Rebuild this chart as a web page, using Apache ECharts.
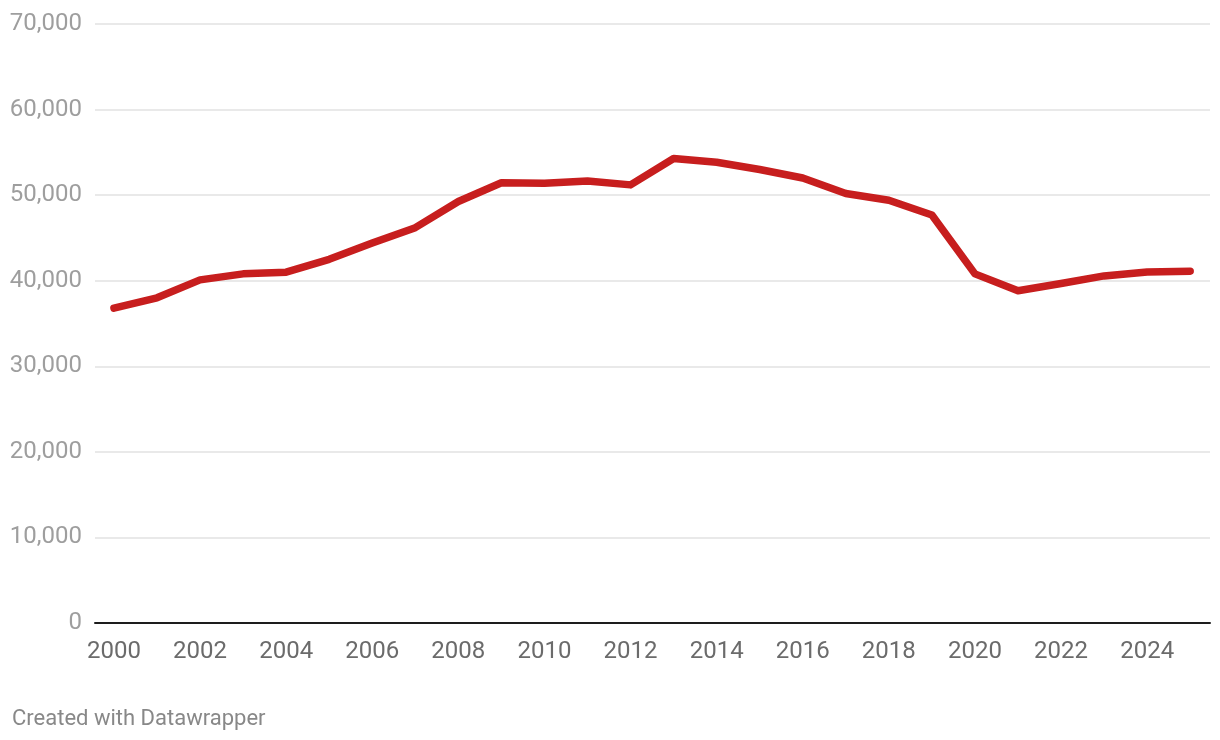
<!DOCTYPE html>
<html>
<head>
<meta charset="utf-8">
<script src="https://cdn.jsdelivr.net/npm/echarts@6/dist/echarts.min.js"></script>
<style>
  html, body { margin: 0; padding: 0; background: #fff; }
  #chart { width: 1220px; height: 740px; }
</style>
</head>
<body>
<div id="chart"></div>
<script>
const years = [2000, 2001, 2002, 2003, 2004, 2005, 2006, 2007, 2008, 2009, 2010, 2011, 2012,
  2013, 2014, 2015, 2016, 2017, 2018, 2019, 2020, 2021, 2022, 2023, 2024, 2025];
const values = [36800, 38000, 40100, 40800, 41000, 42500, 44400, 46200, 49250, 51450, 51380, 51650, 51200,
  54280, 53850, 53000, 52000, 50200, 49400, 47680, 40800, 38830, 39680, 40560, 41030, 41120];
const xTickLabels = [2000, 2002, 2004, 2006, 2008, 2010, 2012, 2014, 2016, 2018, 2020, 2022, 2024];
const yTicks = [0, 10000, 20000, 30000, 40000, 50000, 60000, 70000];

const chart = echarts.init(document.getElementById('chart'), null, { renderer: 'canvas' });
chart.setOption({
  animation: false,
  backgroundColor: '#ffffff',
  textStyle: { fontFamily: 'Roboto' },
  grid: { left: 95, right: 10, top: 24, bottom: 117, containLabel: false },
  xAxis: {
    type: 'value',
    min: 1999.56,
    max: 2025.46,
    axisLine: { show: true, onZero: true, lineStyle: { color: '#1d1d1d', width: 2 } },
    axisTick: { show: false },
    splitLine: { show: false },
    axisLabel: {
      customValues: xTickLabels,
      formatter: v => String(v),
      color: '#6b6b6b',
      fontSize: 24,
      fontFamily: 'Roboto',
      margin: 17
    }
  },
  yAxis: {
    type: 'value',
    min: yTicks[0],
    max: yTicks[yTicks.length - 1],
    interval: 10000,
    axisLine: { show: false },
    axisTick: { show: false },
    axisLabel: {
      formatter: v => v.toLocaleString('en-US'),
      color: '#9e9e9e',
      fontSize: 24,
      fontFamily: 'Roboto',
      margin: 13
    },
    splitLine: { show: true, lineStyle: { color: '#e2e2e2', width: 1.5 } }
  },
  series: [{
    type: 'line',
    data: years.map((y, i) => [y, values[i]]),
    symbol: 'none',
    z: 5,
    lineStyle: { color: '#c71e1e', width: 7.5, cap: 'round', join: 'round' }
  }],
  graphic: [{
    type: 'text',
    left: 12,
    top: 708,
    style: { text: 'Created with Datawrapper', fill: '#888888', fontSize: 22, fontFamily: 'Roboto' }
  }]
});
</script>
</body>
</html>
